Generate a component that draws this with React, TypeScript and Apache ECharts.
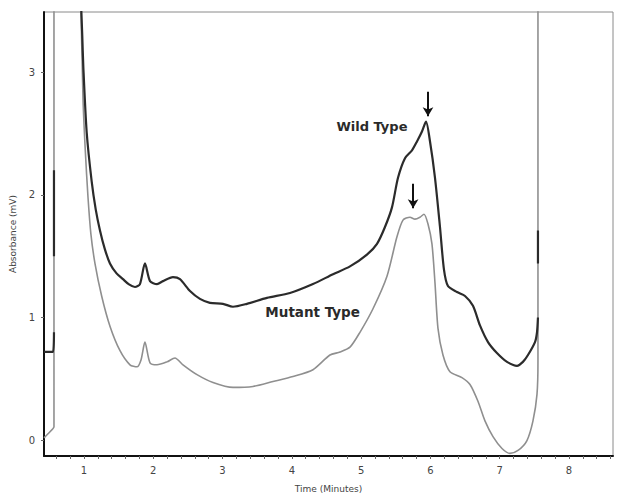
import React, { useEffect, useRef } from "react";
import * as echarts from "echarts";

// Tick labels
const xTickLabels = [1, 2, 3, 4, 5, 6, 7, 8];
const yTickLabels = [0, 1, 2, 3];

// Wild Type trace (time in minutes, absorbance in mV); "-" marks a gap in the trace
const wildType: any[] = [
  [0.423, 0.72], [0.553, 0.72], [0.567, 0.88], "-",
  [0.567, 1.5], [0.567, 2.2], "-",
  [0.955, 3.6], [0.975, 3.3], [0.99, 3.05], [1.039, 2.51], [1.111, 2.11], [1.17, 1.88],
  [1.231, 1.71], [1.3, 1.56], [1.375, 1.441], [1.47, 1.36], [1.563, 1.313], [1.65, 1.27],
  [1.736, 1.249], [1.808, 1.273],
  [1.88, 1.441], [1.953, 1.297], [2.054, 1.273], [2.14, 1.297], [2.284, 1.329],
  [2.385, 1.313], [2.53, 1.216], [2.674, 1.152], [2.818, 1.12], [3.006, 1.112],
  [3.15, 1.088], [3.352, 1.112], [3.641, 1.16], [3.973, 1.2], [4.305, 1.273],
  [4.594, 1.353], [4.839, 1.417], [5.084, 1.513], [5.229, 1.601], [5.344, 1.738],
  [5.445, 1.898], [5.532, 2.139], [5.633, 2.299], [5.734, 2.363], [5.806, 2.435],
  [5.878, 2.516], [5.936, 2.596], [5.994, 2.435], [6.066, 2.139], [6.138, 1.738],
  [6.195, 1.393], [6.253, 1.257], [6.383, 1.208], [6.499, 1.176], [6.614, 1.096],
  [6.715, 0.936], [6.831, 0.8], [6.96, 0.711], [7.105, 0.639], [7.249, 0.607],
  [7.335, 0.639], [7.408, 0.695], [7.509, 0.8], [7.538, 0.88], [7.552, 1.0], "-",
  [7.552, 1.44], [7.552, 1.71],
];

// Mutant Type trace
const mutantType: [number, number][] = [
  [0.423, 0.02], [0.51, 0.07], [0.567, 0.11], [0.567, 3.7], [0.94, 3.7],
  [0.957, 3.49], [0.986, 2.78], [1.02, 2.35], [1.058, 1.98], [1.1, 1.68], [1.159, 1.44],
  [1.255, 1.176], [1.375, 0.93], [1.52, 0.73], [1.664, 0.615], [1.765, 0.599],
  [1.823, 0.655], [1.88, 0.8], [1.953, 0.631], [2.054, 0.615], [2.198, 0.639],
  [2.313, 0.671], [2.429, 0.615], [2.631, 0.535], [2.862, 0.471], [3.15, 0.431],
  [3.439, 0.439], [3.728, 0.479], [4.016, 0.519], [4.305, 0.575], [4.55, 0.695],
  [4.695, 0.719], [4.839, 0.759], [4.983, 0.88], [5.171, 1.072], [5.373, 1.337],
  [5.517, 1.658], [5.604, 1.794], [5.705, 1.818], [5.777, 1.802], [5.849, 1.818],
  [5.907, 1.842], [5.965, 1.762], [6.022, 1.601], [6.066, 1.281], [6.109, 0.912],
  [6.181, 0.695], [6.282, 0.559], [6.455, 0.511], [6.571, 0.455], [6.686, 0.318],
  [6.787, 0.158], [6.903, 0.03], [7.033, -0.067], [7.148, -0.107], [7.264, -0.083],
  [7.393, -0.002], [7.48, 0.158], [7.538, 0.374], [7.552, 0.639], [7.552, 3.7],
];

// Annotations: peak labels and arrows (data coordinates)
const wildLabel = { text: "Wild Type", at: [5.156, 2.56] };
const mutantLabel = { text: "Mutant Type", at: [4.3, 1.045] };
const wildArrow = { from: [5.965, 2.84], to: [5.965, 2.64] };
const mutantArrow = { from: [5.75, 2.09], to: [5.75, 1.89] };

const X_MIN = 0.423;
const X_MAX = 8.635;
const Y_MIN = -0.128;
const Y_MAX = 3.49;

const minorTicks: number[] = [];
for (let i = 3; i <= 43; i++) minorTicks.push(Math.round(i * 20) / 100);

export default function App() {
  const ref = useRef<HTMLDivElement>(null);
  useEffect(() => {
    if (!ref.current) return;
    const chart = echarts.init(ref.current, undefined, { renderer: "svg" });
    const font = "DejaVu Sans";
    chart.setOption({
      animation: false,
      backgroundColor: "#ffffff",
      grid: {
        left: 44,
        right: 9,
        top: 12,
        bottom: 35,
        show: true,
        borderColor: "#8a8a8a",
        borderWidth: 1,
      },
      xAxis: {
        type: "value",
        min: X_MIN,
        max: X_MAX,
        name: "Time (Minutes)",
        nameLocation: "middle",
        nameGap: 28,
        nameTextStyle: { fontFamily: font, fontSize: 9, color: "#444" },
        axisLine: { show: true, onZero: false, lineStyle: { color: "#111", width: 2 } },
        axisTick: {
          show: true,
          customValues: minorTicks,
          length: 3,
          lineStyle: { color: "#666", width: 1 },
        },
        axisLabel: {
          customValues: xTickLabels,
          fontFamily: font,
          fontSize: 10,
          color: "#444",
          margin: 9,
        },
        splitLine: { show: false },
      },
      yAxis: {
        type: "value",
        min: Y_MIN,
        max: Y_MAX,
        name: "Absorbance (mV)",
        nameLocation: "middle",
        nameGap: 22,
        nameTextStyle: { fontFamily: font, fontSize: 9, color: "#444" },
        axisLine: { show: true, onZero: false, lineStyle: { color: "#111", width: 2 } },
        axisTick: {
          show: true,
          customValues: yTickLabels,
          length: 3,
          lineStyle: { color: "#666", width: 1 },
        },
        axisLabel: {
          customValues: yTickLabels,
          fontFamily: font,
          fontSize: 10,
          color: "#444",
          margin: 9,
        },
        splitLine: { show: false },
      },
      series: [
        {
          name: "Mutant Type",
          type: "line",
          data: mutantType,
          showSymbol: false,
          symbol: "none",
          clip: true,
          smooth: 0.25,
          lineStyle: { color: "#8f8f8f", width: 1.6 },
          z: 2,
          markPoint: {
            silent: true,
            symbol: "circle",
            symbolSize: 0,
            label: {
              show: true,
              formatter: mutantLabel.text,
              fontFamily: font,
              fontWeight: "bold",
              fontSize: 13.5,
              color: "#2a2a2a",
              position: "inside",
            },
            data: [{ coord: mutantLabel.at }],
          },
          markLine: {
            silent: true,
            symbol: ["none", "arrow"],
            symbolSize: [8, 9],
            label: { show: false },
            lineStyle: { color: "#111", width: 2, type: "solid" },
            data: [[{ coord: mutantArrow.from }, { coord: mutantArrow.to }]],
          },
        },
        {
          name: "Wild Type",
          type: "line",
          data: wildType,
          showSymbol: false,
          symbol: "none",
          clip: true,
          smooth: 0.25,
          connectNulls: false,
          lineStyle: { color: "#2b2b2b", width: 2.2 },
          z: 3,
          markPoint: {
            silent: true,
            symbol: "circle",
            symbolSize: 0,
            label: {
              show: true,
              formatter: wildLabel.text,
              fontFamily: font,
              fontWeight: "bold",
              fontSize: 13,
              color: "#2a2a2a",
              position: "inside",
            },
            data: [{ coord: wildLabel.at }],
          },
          markLine: {
            silent: true,
            symbol: ["none", "arrow"],
            symbolSize: [8, 9],
            label: { show: false },
            lineStyle: { color: "#111", width: 2, type: "solid" },
            data: [[{ coord: wildArrow.from }, { coord: wildArrow.to }]],
          },
        },
      ],
    });
    return () => chart.dispose();
  }, []);
  return (
    <div
      ref={ref}
      style={{ position: "fixed", left: 0, top: 0, width: 622, height: 498 }}
    />
  );
}
